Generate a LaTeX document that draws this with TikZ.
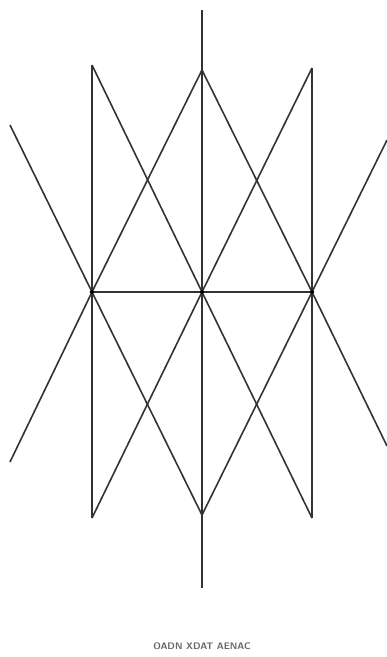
\documentclass[tikz,border=0pt]{standalone}
\usepackage{tikz}
\usetikzlibrary{positioning, calc}

\begin{document}
\begin{tikzpicture}[
    x=1pt, y=-1pt,
    every node/.style={font=\tiny},
    dot/.style={circle, fill=black, inner sep=0pt, minimum size=4.5pt},
    ln/.style={draw=black!80, line width=1.6pt},
    capt/.style={font=\fontsize{9.5}{10}\selectfont\sffamily\bfseries, text=black!60}
]
    \useasboundingbox (0,0) rectangle (387,657);

    % middle row
    \node[dot] (l) at (92,292)  {};
    \node[dot] (c) at (202,292) {};
    \node[dot] (r) at (312,292) {};

    % upper ends
    \coordinate (top) at (202,10);
    \coordinate (lt)  at (92,65);
    \coordinate (ct)  at (202,70);
    \coordinate (rt)  at (312,68);
    \coordinate (ol1) at (10,125);
    \coordinate (or1) at (387,140);

    % lower ends
    \coordinate (bot) at (202,588);
    \coordinate (lb)  at (92,518);
    \coordinate (cb)  at (202,515);
    \coordinate (rb)  at (312,518);
    \coordinate (ol2) at (10,462);
    \coordinate (or2) at (387,446);

    % verticals and horizontal
    \draw[ln] (top) -- (c) -- (bot);
    \draw[ln] (lt) -- (l) -- (lb);
    \draw[ln] (rt) -- (r) -- (rb);
    \draw[ln] (l) -- (c) -- (r);

    % diagonals, upper half
    \draw[ln] (lt) -- (c);
    \draw[ln] (ct) -- (l);
    \draw[ln] (ct) -- (r);
    \draw[ln] (rt) -- (c);
    \draw[ln] (ol1) -- (l);
    \draw[ln] (or1) -- (r);

    % diagonals, lower half
    \draw[ln] (l) -- (cb);
    \draw[ln] (c) -- (lb);
    \draw[ln] (c) -- (rb);
    \draw[ln] (r) -- (cb);
    \draw[ln] (l) -- (ol2);
    \draw[ln] (r) -- (or2);

    \node[capt] (caption) at (202,646) {OADN XDAT AENAC};
\end{tikzpicture}
\end{document}
